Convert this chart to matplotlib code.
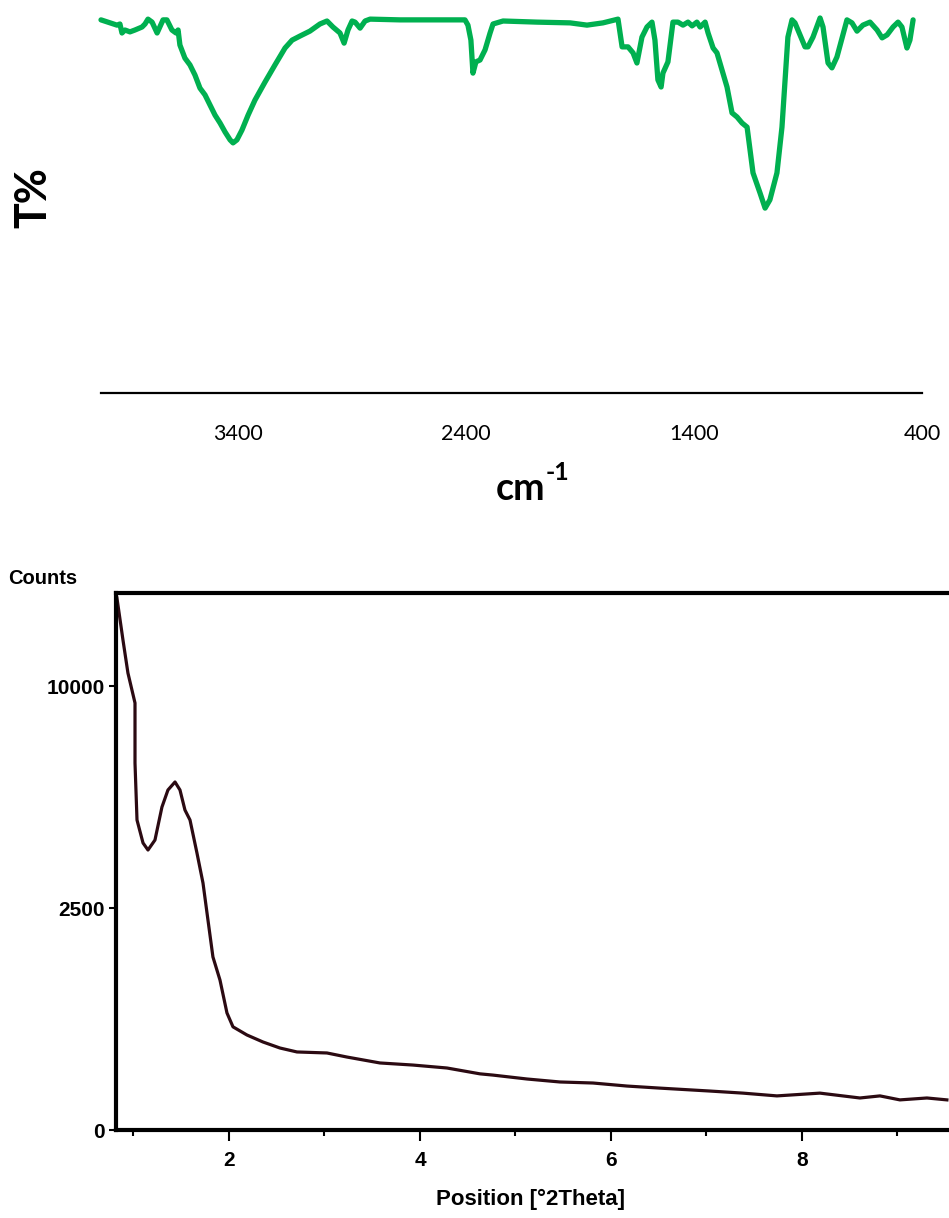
"""
FTIR spectrum (top) and low-angle XRD pattern (bottom) of the sample.

Usage:
    python plot.py
"""

import numpy as np
import matplotlib.pyplot as plt
from matplotlib.ticker import FixedLocator

# === FTIR data (wavenumber in cm-1, transmittance in %) ===
ftir_wn = [4000, 3930, 3917, 3908, 3895, 3873, 3851, 3820, 3807, 3794,
           3776, 3754, 3728, 3711, 3689, 3671, 3662, 3654, 3632, 3610,
           3588, 3566, 3544, 3522, 3500, 3478, 3456, 3434, 3421, 3404,
           3382, 3355, 3325, 3281, 3237, 3193, 3162, 3127, 3084, 3040,
           3009, 2983, 2952, 2934, 2917, 2899, 2886, 2864, 2842, 2820,
           2689, 2513, 2404, 2391, 2378, 2369, 2356, 2338, 2316, 2294,
           2281, 2237, 2088, 1943, 1869, 1799, 1733, 1715, 1689, 1667,
           1650, 1628, 1606, 1584, 1571, 1558, 1544, 1536, 1514, 1492,
           1470, 1448, 1426, 1408, 1387, 1373, 1351, 1338, 1316, 1299,
           1273, 1255, 1233, 1211, 1189, 1167, 1141, 1110, 1088, 1067,
           1036, 1014, 1001, 988, 970, 957, 913, 900, 878, 847,
           834, 812, 795, 773, 729, 707, 685, 659, 628, 597,
           575, 553, 527, 505, 488, 466, 453, 439]
ftir_t = [99.5, 98.1, 98.4, 96.0, 96.8, 96.3, 96.8, 97.6, 98.4, 99.7,
          98.9, 96.0, 99.5, 99.5, 96.8, 96.0, 96.8, 92.8, 89.3, 87.5,
          84.8, 81.3, 79.5, 76.8, 74.1, 72.0, 69.6, 67.5, 66.7, 67.5,
          70.1, 74.1, 78.1, 82.9, 87.5, 92.0, 94.1, 95.2, 96.5, 98.4,
          99.2, 97.6, 96.0, 93.3, 96.8, 99.2, 98.9, 97.3, 99.2, 99.7,
          99.5, 99.5, 99.5, 98.1, 94.1, 85.3, 88.3, 88.8, 91.5, 96.0,
          98.4, 99.2, 98.9, 98.7, 98.1, 98.7, 99.7, 92.3, 92.3, 90.7,
          88.0, 94.9, 97.6, 98.9, 94.1, 83.5, 81.6, 85.3, 88.3, 98.9,
          98.9, 98.1, 98.9, 97.9, 98.9, 97.6, 98.9, 96.0, 92.0, 90.7,
          85.3, 81.6, 74.7, 73.6, 72.0, 70.9, 58.7, 53.3, 49.3, 51.5,
          58.7, 70.9, 82.7, 94.9, 99.5, 98.7, 92.3, 92.3, 94.9, 100.0,
          97.6, 88.0, 86.7, 89.6, 99.5, 98.7, 96.5, 98.1, 98.9, 96.8,
          94.7, 95.5, 97.6, 98.9, 97.6, 92.0, 94.1, 99.5]
ftir_ticks = [3400, 2400, 1400, 400]

# === XRD data (2theta in degrees, intensity in counts) ===
xrd_2theta = [0.827, 0.89, 0.942, 1.016, 1.016, 1.037, 1.10, 1.152, 1.225, 1.298,
              1.361, 1.435, 1.487, 1.539, 1.592, 1.665, 1.728, 1.77, 1.832, 1.906,
              1.979, 2.042, 2.188, 2.356, 2.534, 2.712, 3.026, 3.236, 3.581, 3.927,
              4.283, 4.628, 4.764, 5.12, 5.466, 5.812, 6.168, 6.513, 7.037, 7.382,
              7.738, 8.188, 8.607, 8.817, 9.026, 9.309, 9.518]
xrd_counts = [14355, 12180, 10595, 9250, 6830, 4875, 4180, 3977, 4266, 5290,
              5865, 6145, 5865, 5195, 4875, 3890, 3095, 2390, 1520, 1140,
              695, 540, 458, 393, 341, 309, 301, 270, 228, 214,
              195, 160, 153, 132, 117, 112, 98, 89, 77, 69,
              59, 69, 52, 59, 46, 52, 46]
xrd_yticks = [0, 2500, 10000]
xrd_xticks = [2, 4, 6, 8]
xrd_minor = [1, 3, 5, 7, 9]

GREEN = "#00B050"
XRD_COLOR = "#2b0a12"


def main():
    fig = plt.figure(figsize=(9.49, 12.18), dpi=100)

    # --- FTIR panel ---
    ax = fig.add_axes([101 / 949, 1 - 393 / 1218, 821 / 949, 393 / 1218])
    ax.plot(ftir_wn, ftir_t, color=GREEN, lw=3.8, solid_joinstyle="round",
            solid_capstyle="round", clip_on=False)
    ax.set_xlim(4000, 400)
    ax.set_ylim(0, 104.8)
    for s in ["top", "right", "left"]:
        ax.spines[s].set_visible(False)
    ax.spines["bottom"].set_linewidth(1.6)
    ax.set_yticks([])
    ax.set_xticks(ftir_ticks)
    ax.set_xticklabels([str(t) for t in ftir_ticks], family="Lato", fontsize=15.5)
    ax.tick_params(axis="x", length=0, pad=22)
    fig.text(33 / 949, 1 - 198 / 1218, "T%", rotation=90, ha="center", va="center",
             fontsize=31, fontweight="bold", family="Lato")
    fig.text(545 / 949, 1 - 500 / 1218, "cm", ha="right", va="baseline",
             fontsize=27, fontweight="bold", family="Lato")
    fig.text(546 / 949, 1 - 480 / 1218, "-1", ha="left", va="baseline",
             fontsize=18, fontweight="bold", family="Lato")

    # --- XRD panel (square-root intensity scale) ---
    ax2 = fig.add_axes([116 / 949, 1 - 1130 / 1218, 833 / 949, 537 / 1218])
    ax2.plot(xrd_2theta, xrd_counts, color=XRD_COLOR, lw=2.3)
    ax2.set_yscale("function", functions=(lambda v: np.sqrt(np.clip(v, 0, None)),
                                          lambda v: v ** 2))
    ax2.set_xlim(0.817, 9.54)
    ax2.set_ylim(0, 14630)
    ax2.spines["right"].set_visible(False)
    for s in ["top", "left", "bottom"]:
        ax2.spines[s].set_linewidth(3.0)
    ax2.yaxis.set_major_locator(FixedLocator(xrd_yticks))
    ax2.yaxis.set_minor_locator(FixedLocator([]))
    ax2.set_yticklabels([str(t) for t in xrd_yticks])
    ax2.set_xticks(xrd_xticks)
    ax2.xaxis.set_minor_locator(FixedLocator(xrd_minor))
    ax2.tick_params(axis="y", length=5, width=1.5, pad=3)
    ax2.tick_params(axis="x", which="major", length=8, width=1.5, pad=7)
    ax2.tick_params(axis="x", which="minor", length=4, width=1.5)
    for lab in ax2.get_xticklabels() + ax2.get_yticklabels():
        lab.set_family("Liberation Sans")
        lab.set_fontweight("bold")
        lab.set_fontsize(15)
    fig.text(8 / 949, 1 - 578 / 1218, "Counts", ha="left", va="center",
             fontsize=14.5, fontweight="bold", family="Liberation Sans")
    fig.text(531 / 949, 1 - 1199 / 1218, "Position [°2Theta]", ha="center", va="center",
             fontsize=16, fontweight="bold", family="Liberation Sans")

    fig.savefig("out.png", dpi=100)


if __name__ == "__main__":
    main()
